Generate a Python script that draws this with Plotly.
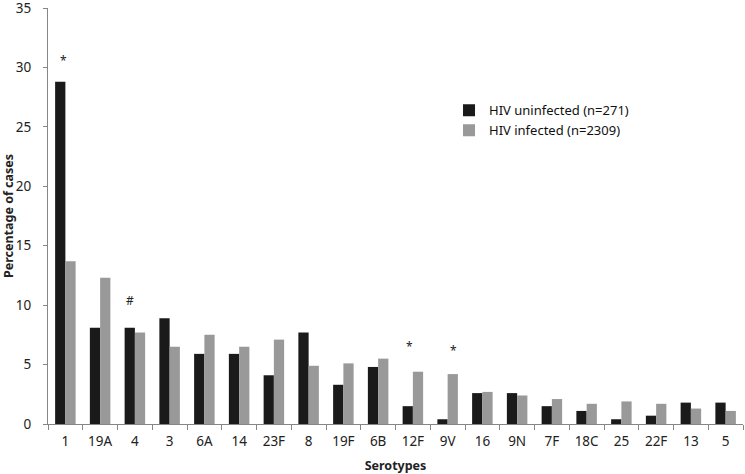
import plotly.graph_objects as go

serotypes = ["1", "19A", "4", "3", "6A", "14", "23F", "8", "19F", "6B", "12F", "9V",
             "16", "9N", "7F", "18C", "25", "22F", "13", "5"]
hiv_uninfected = [28.8, 8.1, 8.1, 8.9, 5.9, 5.9, 4.1, 7.7, 3.3, 4.8, 1.5, 0.4,
                  2.6, 2.6, 1.5, 1.1, 0.4, 0.7, 1.8, 1.8]
hiv_infected = [13.7, 12.3, 7.7, 6.5, 7.5, 6.5, 7.1, 4.9, 5.1, 5.5, 4.4, 4.2,
                2.7, 2.4, 2.1, 1.7, 1.9, 1.7, 1.3, 1.1]
sig_labels = [("1", "*", 30.6, -2), ("4", "#", 10.4, -5), ("12F", "*", 6.5, -3), ("9V", "*", 6.2, 6)]

font_family = "Noto Sans"
axis_color = "#868686"

fig = go.Figure()
fig.add_trace(go.Bar(x=serotypes, y=hiv_uninfected, name="HIV uninfected (n=271)",
                     marker=dict(color="#1a1a1a", line=dict(width=0))))
fig.add_trace(go.Bar(x=serotypes, y=hiv_infected, name="HIV infected (n=2309)",
                     marker=dict(color="#999999", line=dict(width=0))))

for cat, txt, yv, xs in sig_labels:
    fig.add_annotation(x=serotypes.index(cat), y=yv, text=txt, showarrow=False, xshift=xs,
                       font=dict(family=font_family, size=12, color="#222222"))

fig.update_layout(
    width=745, height=474,
    margin=dict(l=48, r=2, t=8, b=50),
    paper_bgcolor="white", plot_bgcolor="white",
    barmode="group", bargap=0.41, bargroupgap=0,
    font=dict(family=font_family, size=12, color="#222222"),
    legend=dict(x=0.577, y=0.79, xanchor="left", yanchor="top",
                font=dict(family=font_family, size=13, color="#111111"),
                bgcolor="rgba(0,0,0,0)", itemwidth=30),
    showlegend=True,
)
fig.update_xaxes(
    type="category", showline=True, linecolor=axis_color, linewidth=1, automargin=False,
    ticks="outside", tickson="boundaries", ticklen=5, tickcolor=axis_color,
    ticklabelstandoff=5,
    showgrid=False, tickfont=dict(size=13.5, color="#222222"),
    title=dict(text="<b>Serotypes</b>", font=dict(size=12.5, color="#222222"), standoff=12),
)
fig.update_yaxes(
    range=[0, 35], dtick=5, showline=True, linecolor=axis_color, linewidth=1, automargin=False,
    ticks="outside", ticklen=4, tickcolor=axis_color, showgrid=False, zeroline=False,
    ticklabeloverflow="allow", ticklabelstandoff=9,
    tickfont=dict(size=13.5, color="#222222"),
    title=dict(text="<b>Percentage of cases</b>", font=dict(size=12.5, color="#222222"), standoff=2),
)

fig.write_html("out.html", config={"displayModeBar": False},
               post_script="document.body.style.margin='0';")
